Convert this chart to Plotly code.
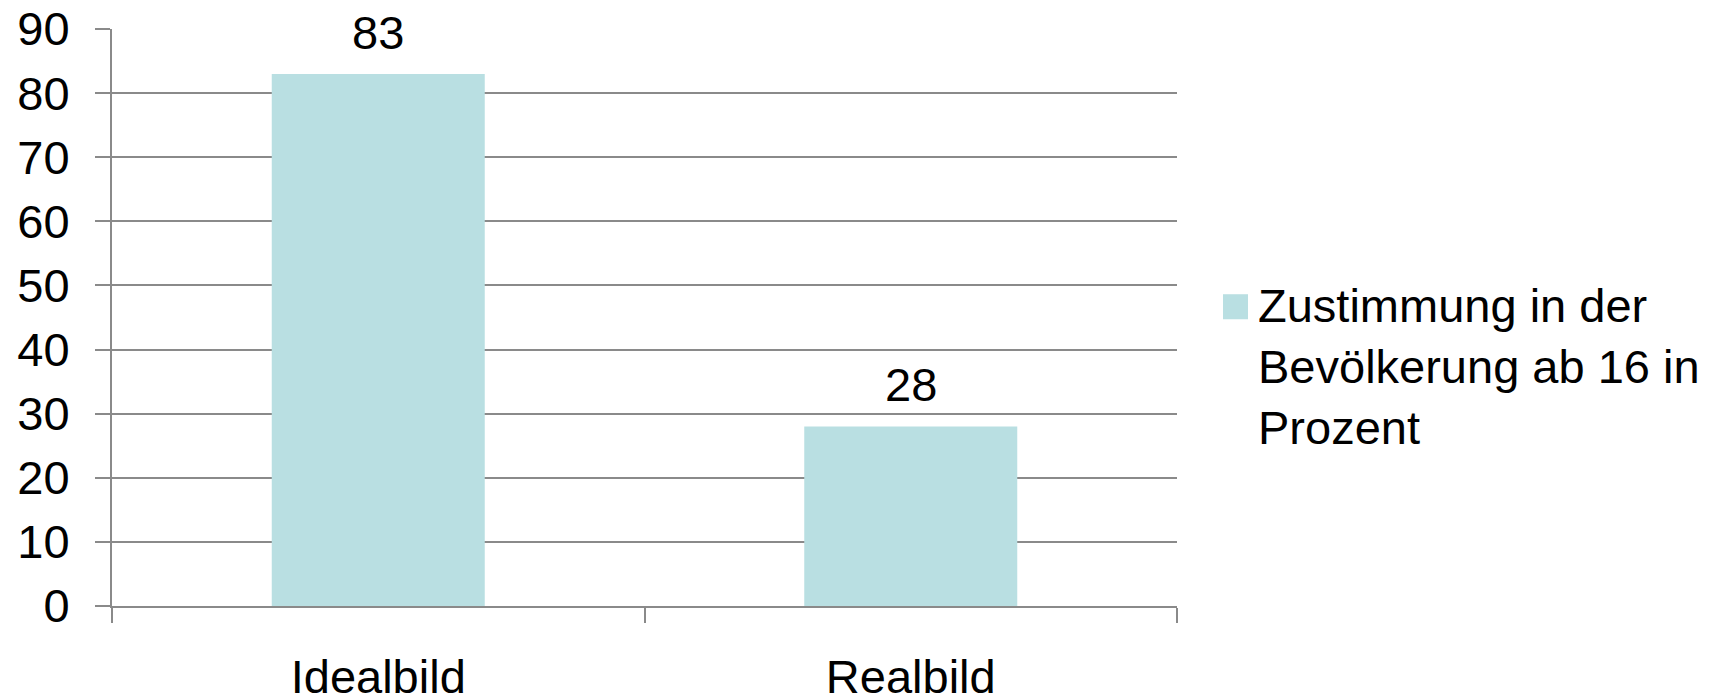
import plotly.graph_objects as go

categories = ["Idealbild", "Realbild"]
values = [83, 28]
series_name = "Zustimmung in der<br>Bevölkerung ab 16 in<br>Prozent"
y_ticks = [0, 10, 20, 30, 40, 50, 60, 70, 80, 90]

BAR = "#b9dfe2"
GRID = "#8a8a8a"
FONT = "Liberation Sans, Arial, sans-serif"
FS = 47

fig = go.Figure()
fig.add_trace(go.Bar(x=categories, y=values, marker=dict(color=BAR, line=dict(width=0)),
                     showlegend=False, hoverinfo="x+y"))

for c, v in zip(categories, values):
    fig.add_annotation(x=c, y=v, text=str(v), showarrow=False, yanchor="bottom",
                       yshift=13, font=dict(size=FS, color="black", family=FONT))

# legend (drawn manually to match the large swatch)
fig.add_shape(type="rect", xref="paper", yref="paper",
              x0=(1223 - 112) / 1065, x1=(1248 - 112) / 1065,
              y0=(605.5 - 319) / 576.5, y1=(605.5 - 294) / 576.5,
              fillcolor=BAR, line=dict(width=0))
fig.add_annotation(xref="paper", yref="paper", x=(1256 - 112) / 1065, y=(605.5 - 277) / 576.5,
                   xanchor="left", yanchor="top", align="left", showarrow=False,
                   text=series_name, font=dict(size=FS, color="black", family=FONT))

fig.update_layout(
    width=1720, height=694,
    margin=dict(l=112, r=543, t=29, b=88, pad=0, autoexpand=False),
    paper_bgcolor="white", plot_bgcolor="white",
    font=dict(family=FONT, size=FS, color="black"),
    bargap=0.6,
    showlegend=False,
)
fig.update_yaxes(range=[0, 90], tickvals=y_ticks, showgrid=True, gridcolor=GRID, gridwidth=2,
                 showline=True, linecolor=GRID, linewidth=2, ticks="outside", ticklen=15,
                 tickcolor=GRID, tickwidth=2, zeroline=False, ticklabelstandoff=16,
                 automargin=False, tickfont=dict(size=FS, color="black"))
fig.update_xaxes(showline=True, linecolor=GRID, linewidth=2, ticks="outside", ticklen=15,
                 tickcolor=GRID, tickwidth=2, tickson="boundaries", showgrid=False,
                 automargin=False, ticklabelstandoff=29, tickfont=dict(size=FS, color="black"))

fig.write_html("out.html")
